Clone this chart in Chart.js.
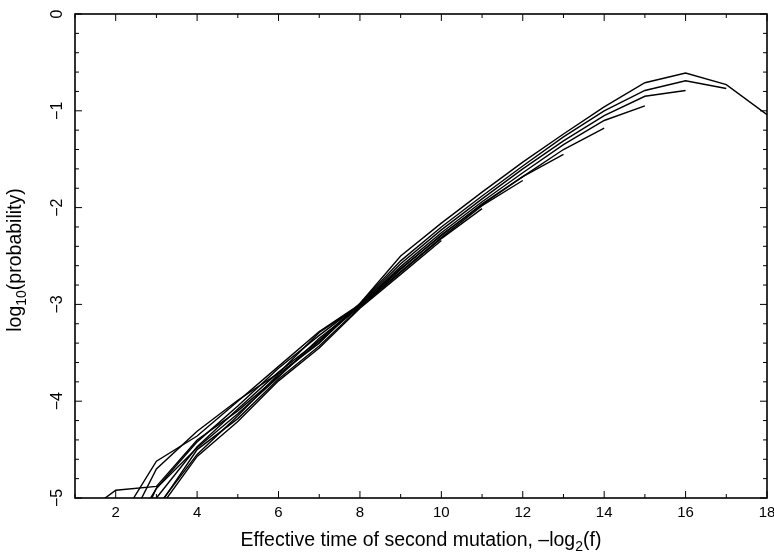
<!DOCTYPE html>
<html>
<head>
<meta charset="utf-8">
<script src="https://cdn.jsdelivr.net/npm/chart.js@4.4.0/dist/chart.umd.min.js"></script>
<style>
  body { margin: 0; background: #fff; }
  #wrap { width: 774px; height: 556px; }
</style>
</head>
<body>
<div id="wrap"><canvas id="myChart" width="774" height="556"></canvas></div>
<script>
// effective time steps, -log2(f)
const timeSteps = [1, 2, 3, 4, 5, 6, 7, 8, 9, 10, 11, 12, 13, 14, 15, 16, 17, 18];

// log10(probability), one array per run (null = no value at that time)
const runA = [null, -6.00, -5.10, -4.55, -4.15, -3.72, -3.40, -2.99, -2.50, -2.16, -1.84, -1.53, -1.24, -0.96, -0.71, -0.61, -0.73, -1.04];
const runB = [null, -5.70, -5.00, -4.47, -4.08, -3.70, -3.37, -2.99, -2.55, -2.20, -1.88, -1.57, -1.27, -1.00, -0.79, -0.69, -0.77];
const runC = [null, -5.60, -4.90, -4.42, -4.05, -3.66, -3.32, -3.00, -2.58, -2.23, -1.91, -1.60, -1.31, -1.05, -0.85, -0.79];
const runD = [null, -5.53, -4.70, -4.31, -3.99, -3.71, -3.29, -3.01, -2.61, -2.26, -1.94, -1.64, -1.35, -1.10, -0.95];
const runE = [-5.23, -4.92, -4.88, -4.40, -4.10, -3.74, -3.38, -3.02, -2.64, -2.28, -1.97, -1.68, -1.40, -1.18];
const runF = [null, -5.30, -4.62, -4.36, -4.00, -3.64, -3.28, -3.00, -2.63, -2.29, -1.96, -1.68, -1.45];
const runG = [null, -5.80, -4.90, -4.48, -4.13, -3.75, -3.35, -3.02, -2.66, -2.31, -1.98, -1.72];
const runH = [null, null, -5.12, -4.50, -4.18, -3.77, -3.43, -3.03, -2.67, -2.32, -2.01];
const runI = [null, null, -5.15, -4.57, -4.21, -3.79, -3.45, -3.04, -2.69, -2.34];

const runs = [runA, runB, runC, runD, runE, runF, runG, runH, runI];

const xTitle = ['Effective time of second mutation, \u2013log', '2', '(f)'];
const yTitle = ['log', '10', '(probability)'];

const FONT = '"Liberation Sans", Arial, sans-serif';

// text with a subscript in the middle part
function drawSubText(ctx, parts, size) {
  const big = size + 'px ' + FONT;
  const small = Math.round(size * 0.7) + 'px ' + FONT;
  ctx.font = big;
  const w0 = ctx.measureText(parts[0]).width;
  const w2 = ctx.measureText(parts[2]).width;
  ctx.font = small;
  const w1 = ctx.measureText(parts[1]).width;
  let x = -(w0 + w1 + w2) / 2;
  ctx.textAlign = 'left';
  ctx.textBaseline = 'alphabetic';
  ctx.font = big;
  ctx.fillText(parts[0], x, 0);
  x += w0;
  ctx.font = small;
  ctx.fillText(parts[1], x, size * 0.28);
  x += w1;
  ctx.font = big;
  ctx.fillText(parts[2], x, 0);
}

const frame = {
  id: 'frame',
  afterDraw(chart) {
    const { ctx, chartArea: a, scales: { x, y } } = chart;
    ctx.save();
    ctx.strokeStyle = '#000';
    ctx.lineWidth = 1;
    ctx.beginPath();
    for (let v = 1; v <= 18; v++) {
      const px = x.getPixelForValue(v);
      const len = v % 2 === 0 ? 7 : 4;
      ctx.moveTo(px, a.bottom); ctx.lineTo(px, a.bottom - len);
      ctx.moveTo(px, a.top); ctx.lineTo(px, a.top + len);
    }
    for (let i = 0; i <= 25; i++) {
      const py = y.getPixelForValue(-i * 0.2);
      const len = i % 5 === 0 ? 7 : 4;
      ctx.moveTo(a.left, py); ctx.lineTo(a.left + len, py);
      ctx.moveTo(a.right, py); ctx.lineTo(a.right - len, py);
    }
    ctx.stroke();
    ctx.lineWidth = 1.6;
    ctx.strokeRect(a.left, a.top, a.right - a.left, a.bottom - a.top);

    ctx.fillStyle = '#000';
    ctx.save();
    ctx.translate((a.left + a.right) / 2, 546);
    drawSubText(ctx, xTitle, 19.5);
    ctx.restore();
    ctx.save();
    ctx.translate(21, 260);
    ctx.rotate(-Math.PI / 2);
    drawSubText(ctx, yTitle, 19.5);
    ctx.restore();
    ctx.restore();
  }
};

const printChart = () => {
  const ctx = document.getElementById('myChart').getContext('2d');
  const datasets = runs.map(run => ({
    data: run.map((v, i) => ({ x: timeSteps[i], y: v })),
    borderColor: '#000',
    borderWidth: 1.4,
    pointRadius: 0,
    fill: false,
    tension: 0
  }));
  new Chart(ctx, {
    type: 'line',
    data: { datasets: datasets },
    options: {
      responsive: false,
      animation: false,
      events: [],
      layout: { padding: { top: 14, right: 7, left: 0, bottom: 0 } },
      plugins: { legend: { display: false }, tooltip: { enabled: false } },
      scales: {
        x: {
          type: 'linear',
          min: 1,
          max: 18,
          afterFit: s => { s.height = 58; s.paddingLeft = 0; s.paddingRight = 0; },
          grid: { display: false, drawTicks: false },
          border: { display: false },
          ticks: {
            stepSize: 1,
            autoSkip: false,
            maxRotation: 0,
            padding: 6,
            color: '#000',
            font: { family: FONT, size: 15 },
            callback: v => (v % 2 === 0 ? String(v) : '')
          }
        },
        y: {
          type: 'linear',
          min: -5,
          max: 0,
          afterFit: s => { s.width = 75; s.paddingTop = 0; s.paddingBottom = 0; },
          grid: { display: false, drawTicks: false },
          border: { display: false },
          ticks: {
            stepSize: 1,
            minRotation: 90,
            maxRotation: 90,
            crossAlign: 'center',
            padding: 8,
            color: '#000',
            font: { family: FONT, size: 16 },
            callback: v => (v === 0 ? '0' : '\u2212' + Math.abs(v))
          }
        }
      }
    },
    plugins: [frame]
  });
};

printChart();
</script>
</body>
</html>
